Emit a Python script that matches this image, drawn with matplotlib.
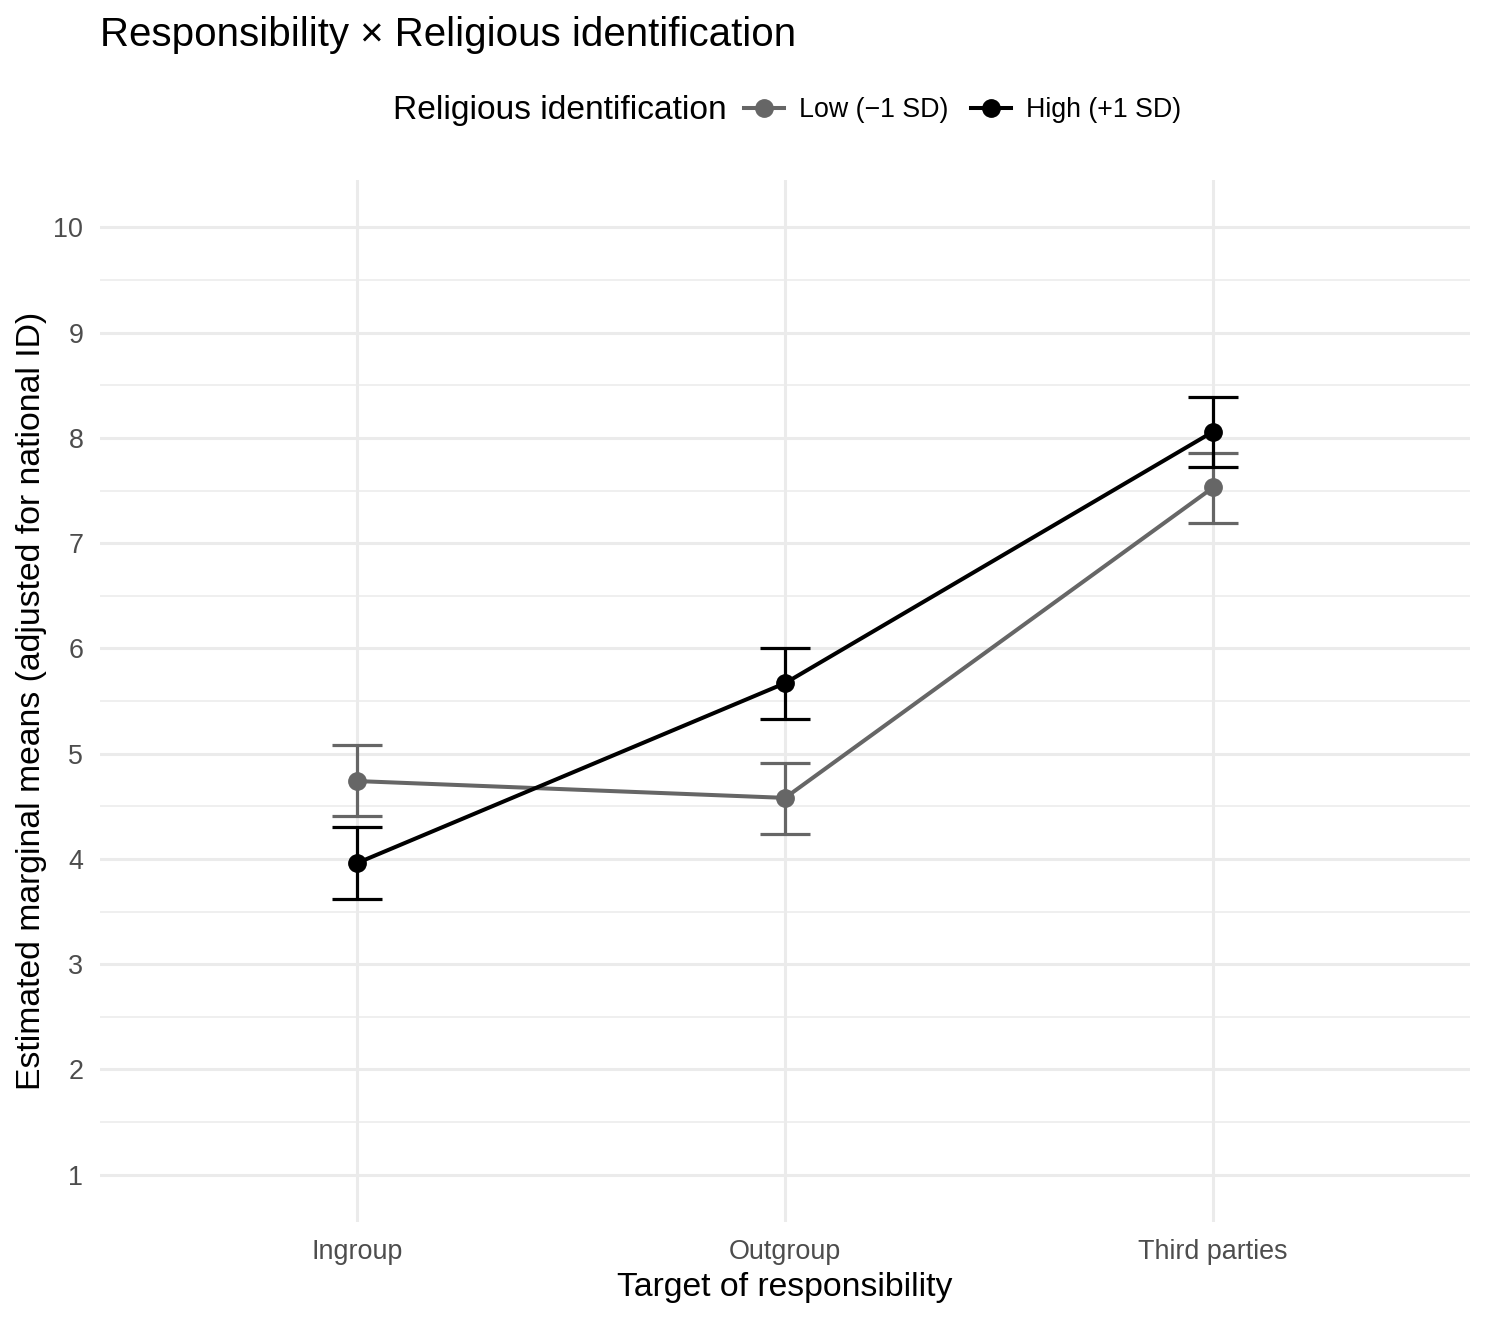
import numpy as np
import matplotlib
matplotlib.use('Agg')
import matplotlib.pyplot as plt
from matplotlib.ticker import MultipleLocator

plt.rcParams['font.family'] = ['Liberation Sans', 'DejaVu Sans']

targets = ['Ingroup', 'Outgroup', 'Third parties']
groups = ['Low (\u22121 SD)', 'High (+1 SD)']
low_mean = [4.74, 4.58, 7.53]
low_lo = [4.41, 4.24, 7.19]
low_hi = [5.08, 4.91, 7.86]
high_mean = [3.96, 5.67, 8.06]
high_lo = [3.62, 5.33, 7.72]
high_hi = [4.30, 6.00, 8.39]
colors = ['#666666', '#000000']

fig = plt.figure(figsize=(14.88, 13.21), dpi=100, facecolor='white')
ax = fig.add_axes([0.0672, 0.0749, 0.9208, 0.7888])

x = np.arange(len(targets))
series = [(low_mean, low_lo, low_hi), (high_mean, high_lo, high_hi)]
handles = []
for (m, lo, hi), c, lab in zip(series, colors, groups):
    m = np.array(m)
    yerr = [m - np.array(lo), np.array(hi) - m]
    ax.errorbar(x, m, yerr=yerr, fmt='none', ecolor=c, elinewidth=2.3,
                capsize=18, capthick=2.3, zorder=3)
    h, = ax.plot(x, m, '-o', color=c, lw=2.9, ms=12.5, zorder=4, label=lab)
    handles.append(h)

ax.set_xlim(-0.6, 2.6)
ax.set_ylim(0.55, 10.45)
ax.set_xticks(x)
ax.set_xticklabels(targets)
ax.yaxis.set_major_locator(MultipleLocator(1))
ax.yaxis.set_minor_locator(MultipleLocator(0.5))
ax.grid(which='major', axis='both', color='#EBEBEB', lw=2.2)
ax.grid(which='minor', axis='y', color='#EBEBEB', lw=1.1)
ax.set_axisbelow(True)
for s in ax.spines.values():
    s.set_visible(False)
ax.tick_params(which='both', length=0, labelsize=19.4, labelcolor='#4D4D4D', pad=12)

ax.set_xlabel('Target of responsibility', fontsize=24.3, labelpad=5)
ax.set_ylabel('Estimated marginal means (adjusted for national ID)', fontsize=24.3, labelpad=5)

fig.text(100/1488, 1 - 35/1321, 'Responsibility \u00d7 Religious identification',
         fontsize=29, ha='left', va='center')
fig.text(393/1488, 1 - 110/1321, 'Religious identification', fontsize=24.1,
         ha='left', va='center')
fig.legend(handles=handles, loc='center left', bbox_to_anchor=(744/1488, 1 - 110/1321),
           ncol=2, frameon=False, fontsize=19.3, handlelength=1.5,
           handletextpad=0.56, columnspacing=0.82, borderaxespad=0, borderpad=0)

fig.savefig('out.png', dpi=100)
